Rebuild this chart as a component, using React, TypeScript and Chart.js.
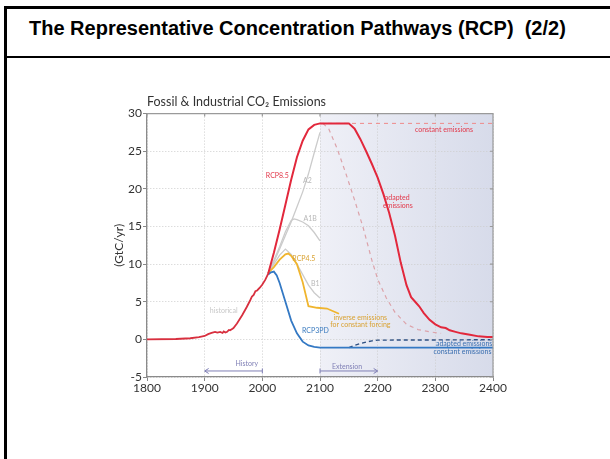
import React, { useEffect, useRef } from "react";
import { Chart, registerables } from "chart.js";

Chart.register(...registerables);

// ---------- data ----------
const xTicks = [1800, 1900, 2000, 2100, 2200, 2300, 2400];
const yTicks = [-5, 0, 5, 10, 15, 20, 25, 30];

const historyYears = [1800, 1850, 1875, 1890, 1900, 1906, 1912, 1918, 1922, 1927, 1931, 1933, 1936, 1939, 1942, 1944, 1947, 1950, 1956, 1965, 1973, 1979, 1982, 1985, 1988, 1991, 1996, 2000, 2005, 2010];
const historyValues = [0, 0.05, 0.15, 0.3, 0.45, 0.7, 0.85, 1.0, 0.9, 1.0, 0.85, 1.06, 0.9, 1.0, 1.25, 1.2, 1.35, 1.5, 2.1, 3.2, 4.3, 5.2, 5.7, 5.9, 6.4, 6.5, 6.9, 7.3, 7.9, 8.7];

const rcp85Years = [2010, 2020, 2030, 2040, 2050, 2060, 2070, 2080, 2090, 2100, 2150, 2160, 2170, 2180, 2190, 2200, 2210, 2220, 2230, 2240, 2250, 2258, 2265, 2272, 2280, 2290, 2300, 2310, 2318, 2325, 2335, 2345, 2360, 2375, 2390, 2400];
const rcp85Values = [8.7, 11.5, 14.6, 17.9, 21.2, 24.2, 26.4, 27.9, 28.5, 28.7, 28.7, 28.0, 26.6, 25.0, 23.3, 21.5, 19.3, 16.8, 13.8, 10.2, 7.2, 5.6, 5.0, 4.4, 3.5, 2.6, 2.0, 1.6, 1.5, 1.2, 1.0, 0.8, 0.6, 0.4, 0.3, 0.3];

const constantRedYears = [2100, 2400];
const constantRedValues = [28.7, 28.7];

const inverseRedYears = [2105, 2115, 2130, 2145, 2160, 2175, 2190, 2200, 2215, 2230, 2250, 2270, 2290, 2310];
const inverseRedValues = [28.7, 28.0, 25.3, 22.0, 18.5, 14.8, 10.5, 8.0, 5.5, 3.6, 2.0, 1.3, 1.0, 0.8];

const a2Years = [2010, 2020, 2030, 2040, 2050, 2060, 2070, 2080, 2090, 2100];
const a2Values = [8.8, 10.3, 12.0, 13.8, 15.6, 17.6, 19.6, 22.0, 24.8, 27.5];

const a1bYears = [2010, 2020, 2030, 2040, 2050, 2055, 2060, 2070, 2080, 2090, 2100];
const a1bValues = [8.8, 10.5, 12.3, 14.3, 15.8, 16.0, 15.9, 15.6, 15.1, 14.2, 13.1];

const b1Years = [2010, 2020, 2030, 2040, 2050, 2060, 2070, 2080, 2090, 2100];
const b1Values = [8.8, 10.0, 11.2, 12.0, 11.3, 10.0, 8.6, 7.2, 6.2, 5.5];

const rcp45Years = [2010, 2020, 2030, 2040, 2045, 2050, 2060, 2070, 2080, 2095, 2112, 2133];
const rcp45Values = [8.8, 9.6, 10.6, 11.3, 11.4, 11.1, 10.0, 7.6, 4.4, 4.2, 4.1, 3.4];

const rcp3Years = [2010, 2015, 2020, 2025, 2030, 2040, 2050, 2060, 2070, 2080, 2090, 2100, 2400];
const rcp3Values = [8.6, 8.9, 9.0, 8.5, 7.5, 5.0, 2.5, 0.8, -0.3, -0.8, -1.0, -1.1, -1.1];

const adaptedBlueYears = [2150, 2160, 2170, 2180, 2190, 2200, 2400];
const adaptedBlueValues = [-1.1, -0.8, -0.55, -0.35, -0.2, -0.1, -0.05];

const historyRange = [1900, 2000];
const extensionRange = [2100, 2200];
const bracketValue = -4.2;

const labelTexts = ["RCP8.5", "A2", "A1B", "RCP4.5", "B1", "adapted", "emissions", "constant emissions", "inverse emissions", "for constant forcing", "RCP3PD", "adapted emissions", "constant emissions", "historical", "History", "Extension"];
const labelYears = [2026, 2078, 2083, 2072, 2092, 2234, 2235, 2315, 2170, 2170, 2092, 2350, 2347, 1933, 1973, 2147];
const labelValues = [21.8, 21.1, 16.0, 10.7, 7.4, 18.8, 17.8, 27.8, 2.9, 2.0, 1.1, -0.6, -1.7, 3.75, -3.3, -3.7];
const labelColors = ["#e2384a", "#b8b8b8", "#b8b8b8", "#d9a232", "#b8b8b8", "#e2384a", "#e2384a", "#e2384a", "#d9a232", "#d9a232", "#3b7bbf", "#3b6fb0", "#3b6fb0", "#c8c8c8", "#7f7fb5", "#7f7fb5"];

const pts = (xs: number[], ys: number[]) => xs.map((x, i) => ({ x, y: ys[i] }));

const FONT = "Lato, 'Open Sans', sans-serif";

const shadePlugin = {
  id: "shade",
  beforeDraw(chart: any) {
    const { ctx, chartArea, scales } = chart;
    const x0 = scales.x.getPixelForValue(extensionRange[0]);
    const g = ctx.createLinearGradient(x0, 0, chartArea.right, 0);
    g.addColorStop(0, "#eff0f7");
    g.addColorStop(1, "#d7dbea");
    ctx.save();
    ctx.fillStyle = g;
    ctx.fillRect(x0, chartArea.top, chartArea.right - x0, chartArea.bottom - chartArea.top);
    ctx.restore();
  },
  afterDraw(chart: any) {
    const { ctx, chartArea, scales } = chart;
    ctx.save();
    ctx.strokeStyle = "#9a9a9a";
    ctx.lineWidth = 1.2;
    ctx.beginPath();
    ctx.moveTo(chartArea.left, chartArea.top);
    ctx.lineTo(chartArea.right, chartArea.top);
    ctx.lineTo(chartArea.right, chartArea.bottom);
    // small inward ticks on top and right borders
    xTicks.forEach((v) => {
      const px = scales.x.getPixelForValue(v);
      ctx.moveTo(px, chartArea.top);
      ctx.lineTo(px, chartArea.top + 3);
    });
    yTicks.forEach((v) => {
      const py = scales.y.getPixelForValue(v);
      ctx.moveTo(chartArea.right, py);
      ctx.lineTo(chartArea.right - 3, py);
    });
    ctx.stroke();
    ctx.restore();
  },
};

const labelPlugin = {
  id: "labels",
  afterDatasetsDraw(chart: any) {
    const { ctx, scales } = chart;
    const xs = scales.x;
    const ys = scales.y;
    ctx.save();
    ctx.font = `7px ${FONT}`;
    ctx.textAlign = "center";
    ctx.textBaseline = "middle";
    labelTexts.forEach((t, i) => {
      ctx.fillStyle = labelColors[i];
      ctx.fillText(t, xs.getPixelForValue(labelYears[i]), ys.getPixelForValue(labelValues[i]));
    });
    // brackets
    ctx.strokeStyle = "#7f7fb5";
    ctx.lineWidth = 1;
    const by = ys.getPixelForValue(bracketValue);
    const h0 = xs.getPixelForValue(historyRange[0]);
    const h1 = xs.getPixelForValue(historyRange[1]);
    ctx.beginPath();
    ctx.moveTo(h0, by);
    ctx.lineTo(h1, by);
    ctx.moveTo(h0 + 4, by - 2.5);
    ctx.lineTo(h0, by);
    ctx.lineTo(h0 + 4, by + 2.5);
    ctx.moveTo(h1, by - 2.5);
    ctx.lineTo(h1, by + 2.5);
    const e0 = xs.getPixelForValue(extensionRange[0]);
    const e1 = xs.getPixelForValue(extensionRange[1]);
    ctx.moveTo(e0, by);
    ctx.lineTo(e1, by);
    ctx.moveTo(e1 - 4, by - 2.5);
    ctx.lineTo(e1, by);
    ctx.lineTo(e1 - 4, by + 2.5);
    ctx.moveTo(e0, by - 2.5);
    ctx.lineTo(e0, by + 2.5);
    ctx.stroke();
    ctx.restore();
  },
};

function line(label: string, data: any[], color: string, width: number, dash: number[] = []) {
  return {
    label,
    data,
    borderColor: color,
    backgroundColor: color,
    borderWidth: width,
    borderDash: dash,
    pointRadius: 0,
    tension: 0,
    fill: false,
  };
}

export default function App() {
  const ref = useRef<HTMLCanvasElement | null>(null);

  useEffect(() => {
    if (!ref.current) return;
    const chart = new Chart(ref.current, {
      type: "line",
      data: {
        datasets: [
          line("RCP8.5", pts(rcp85Years, rcp85Values), "#e2283c", 2),
          line("History", pts(historyYears, historyValues), "#d8303f", 1.8),
          line("RCP3PD", pts(rcp3Years, rcp3Values), "#3479c4", 1.8),
          line("Adapted (blue)", pts(adaptedBlueYears, adaptedBlueValues), "#2c4f82", 1.4, [4, 3]),
          line("RCP4.5", pts(rcp45Years, rcp45Values), "#f0b52e", 1.8),
          line("Constant (red)", pts(constantRedYears, constantRedValues), "#ef8a8a", 1, [4, 4]),
          line("Inverse (red)", pts(inverseRedYears, inverseRedValues), "#dca3aa", 1.2, [4, 4]),
          line("A2", pts(a2Years, a2Values), "#cbcbcb", 1.3),
          line("A1B", pts(a1bYears, a1bValues), "#cbcbcb", 1.3),
          line("B1", pts(b1Years, b1Values), "#cbcbcb", 1.3),
        ],
      },
      options: {
        responsive: false,
        animation: false,
        events: [],
        layout: { padding: { left: 108, right: 117, top: 94.6, bottom: 57 } },
        plugins: {
          legend: { display: false },
          tooltip: { enabled: false },
          title: {
            display: true,
            text: "Fossil & Industrial CO\u2082 Emissions",
            align: "start",
            fullSize: false,
            color: "#333",
            font: { family: FONT, size: 12.5, weight: "normal" },
            padding: { top: 0, bottom: 4 },
          },
        },
        scales: {
          x: {
            type: "linear",
            min: xTicks[0],
            max: xTicks[xTicks.length - 1],
            afterBuildTicks: (s: any) => {
              s.ticks = xTicks.map((v) => ({ value: v }));
            },
            afterFit: (s: any) => {
              s.height = 25;
            },
            ticks: {
              color: "#333",
              font: { family: FONT, size: 12 },
              padding: 0,
              maxRotation: 0,
              autoSkip: false,
              callback: (v: any) => String(v),
            },
            grid: { color: "#cdcdcd", tickColor: "#888", tickLength: 4, lineWidth: 1 },
            border: { color: "#8a8a8a", width: 1.3, dash: [1, 2] },
          },
          y: {
            type: "linear",
            min: yTicks[0],
            max: yTicks[yTicks.length - 1],
            afterBuildTicks: (s: any) => {
              s.ticks = yTicks.map((v) => ({ value: v }));
            },
            afterFit: (s: any) => {
              s.width = 39;
            },
            title: {
              display: true,
              text: "(GtC/yr)",
              color: "#333",
              font: { family: FONT, size: 12 },
              padding: { top: 4, bottom: 4 },
            },
            ticks: { color: "#333", font: { family: FONT, size: 12 }, padding: 1, callback: (v: any) => String(v) },
            grid: { color: "#cdcdcd", tickColor: "#888", tickLength: 4, lineWidth: 1 },
            border: { color: "#8a8a8a", width: 1.3, dash: [1, 2] },
          },
        },
      },
      plugins: [shadePlugin, labelPlugin],
    } as any);
    return () => chart.destroy();
  }, []);

  return (
    <div style={{ position: "fixed", left: 0, top: 0, width: 610, height: 459, background: "#fff", overflow: "hidden" }}>
      <div style={{ position: "absolute", left: 4, top: 6, width: 3, height: 453, background: "#000" }} />
      <div style={{ position: "absolute", left: 4, top: 6, width: 606, height: 3, background: "#000" }} />
      <div style={{ position: "absolute", left: 6, top: 56, width: 604, height: 1.5, background: "#000" }} />
      <div
        style={{
          position: "absolute",
          left: 29,
          top: 17,
          font: "bold 20px 'Liberation Sans', Arial, sans-serif",
          whiteSpace: "pre",
          color: "#000",
          lineHeight: "23px",
        }}
      >
        {"The Representative Concentration Pathways (RCP)  (2/2)"}
      </div>
      <canvas ref={ref} width={610} height={459} style={{ position: "absolute", left: 0, top: 0 }} />
    </div>
  );
}
